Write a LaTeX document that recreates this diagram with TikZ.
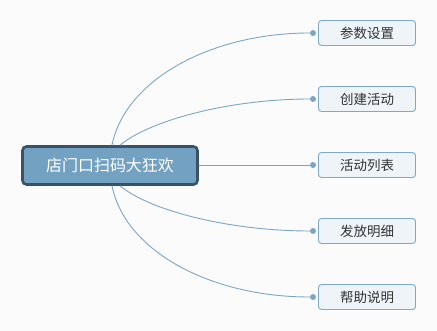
\documentclass[tikz,border=0pt]{standalone}
\usepackage{fontspec}
\setmainfont{Noto Sans CJK SC}
\usepackage{tikz}
\definecolor{grund}{HTML}{FBFBFB}
\definecolor{astfarbe}{HTML}{7BA7C6}
\definecolor{wurzelfill}{HTML}{72A1C1}
\definecolor{wurzelrand}{HTML}{3A5266}
\definecolor{themafill}{HTML}{EEF4F8}
\definecolor{themarand}{HTML}{7DAACB}
\tikzset{% 
		wurzel/.style={draw=wurzelrand,line width=2.6pt,fill=wurzelfill,rounded corners=4pt,
			minimum width=175pt,minimum height=38pt,inner sep=0pt,text=white,
			font=\fontsize{16}{16}\selectfont},
		thema/.style={draw=themarand,line width=.9pt,fill=themafill,rounded corners=3pt,
			minimum width=97pt,minimum height=25pt,inner sep=0pt,text=black!80,
			font=\fontsize{13.5}{13.5}\selectfont},
		punkt/.style={circle,fill=astfarbe,inner sep=0pt,minimum size=6pt},
		ast/.style={draw=astfarbe,line width=.9pt}
	}
\newcommand{\thema}[3]{
		\node[punkt] (p#1) at (313,#2) {};
		\node[thema] (t#1) at (367,#2) {#3};
		}

\begin{document}
\begin{tikzpicture}[x=1pt,y=-1pt]
    \useasboundingbox[fill=grund] (0,0) rectangle (437,331);
    \node[wurzel] (haupt) at (110,165.5) {店门口扫码大狂欢};
    \thema{1}{33}{参数设置}
    \thema{2}{99}{创建活动}
    \thema{3}{165}{活动列表}
    \thema{4}{231}{发放明细}
    \thema{5}{297}{帮助说明}
    \draw[ast] ([xshift=2pt]haupt.north) .. controls +(13,-65) and +(-103,0) .. (p1) ;
    \draw[ast] ([xshift=10pt]haupt.north) .. controls +(30,-25) and +(-83,0) .. (p2) ;
    \draw[ast] (haupt.east |- p3) -- (p3) ;
    \draw[ast] ([xshift=10pt]haupt.south) .. controls +(30,25) and +(-83,0) .. (p4) ;
    \draw[ast] ([xshift=2pt]haupt.south) .. controls +(13,65) and +(-103,0) .. (p5) ;
\end{tikzpicture}
\end{document}
